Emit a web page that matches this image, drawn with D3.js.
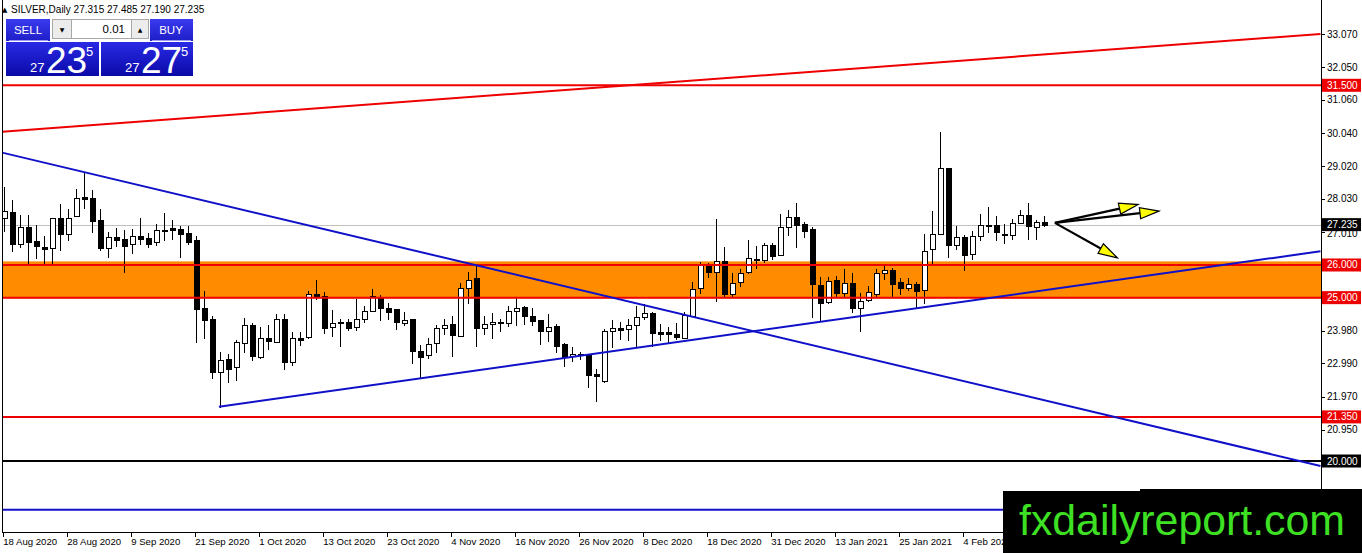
<!DOCTYPE html>
<html>
<head>
<meta charset="utf-8">
<script src="https://cdn.jsdelivr.net/npm/d3@7"></script>
<style>
  body { margin: 0; background: #fff; overflow: hidden; }
  svg { display: block; font-family: "Liberation Sans", Arial, sans-serif; }
</style>
</head>
<body>
<script>
// daily OHLC, SILVER, 18 Aug 2020 .. mid Feb 2021
const opens = [27.42,27.63,26.65,27.17,26.72,26.56,26.50,27.44,26.96,27.52,28.09,28.06,27.38,26.53,26.87,26.80,26.63,26.90,26.84,26.71,
  27.06,27.12,27.11,26.97,26.75,24.68,24.34,22.72,23.12,22.86,23.60,24.16,23.17,23.76,23.65,24.35,23.02,23.78,23.80,25.11,
  25.05,24.09,24.26,24.26,24.08,24.34,24.58,24.98,24.67,24.65,24.24,24.34,23.36,23.22,23.60,24.07,24.18,23.84,25.31,25.59,
  24.06,24.19,24.26,24.24,24.60,24.70,24.43,24.31,23.98,24.14,23.58,23.22,23.25,23.27,22.66,22.46,23.97,24.07,24.03,24.16,
  24.41,24.53,23.96,23.96,23.88,23.78,24.45,25.28,25.99,25.77,26.12,25.11,25.49,25.77,26.17,26.15,26.60,26.30,27.17,27.48,
  27.26,27.09,25.40,24.85,25.53,25.14,25.46,24.69,24.90,25.14,25.77,25.86,25.49,25.30,25.43,25.23,26.48,26.96,28.98,26.62,
  26.85,26.32,26.88,27.21,27.21,26.95,26.93,27.29,27.52,27.17,27.315];
const highs = [28.40,28.00,27.52,27.52,27.21,26.88,27.43,27.88,27.70,28.34,28.84,28.29,27.70,27.01,27.14,27.07,27.09,27.45,26.97,27.26,
  27.60,27.39,27.19,27.19,26.90,25.19,24.44,23.33,23.27,23.70,24.37,24.22,24.10,24.17,24.50,24.50,23.94,23.96,25.19,25.53,
  25.17,24.62,24.34,24.34,24.95,24.75,25.26,25.07,24.85,24.65,24.57,24.34,23.55,23.78,24.16,24.34,24.44,25.44,25.79,25.97,
  24.44,24.52,24.36,24.75,25.00,24.73,24.67,24.31,24.50,24.19,23.60,23.50,23.34,23.29,22.82,24.03,24.31,24.24,24.34,24.75,
  24.82,24.55,24.19,24.10,24.21,24.57,25.48,26.09,26.05,27.41,26.55,25.77,25.87,26.75,26.58,26.66,26.66,27.55,27.68,27.90,
  27.32,27.17,25.63,25.63,25.67,25.87,25.77,25.13,25.36,25.87,25.97,25.92,25.61,25.61,25.48,26.94,27.65,30.07,28.98,27.18,
  26.92,27.03,27.55,27.78,27.49,27.26,27.41,27.68,27.90,27.39,27.485];
const lows = [27.03,26.43,26.55,26.05,26.20,26.05,26.05,26.46,26.76,27.49,27.75,27.01,26.46,26.24,26.58,25.79,26.36,26.64,26.56,26.62,
  26.78,26.81,26.24,26.65,23.65,23.75,22.55,21.66,22.41,22.49,23.33,23.09,23.15,23.44,23.65,22.82,22.95,23.55,23.78,24.97,
  23.92,23.83,23.53,24.02,24.02,24.26,24.58,24.32,24.34,24.04,24.16,23.00,22.54,23.14,23.35,23.89,23.20,23.84,24.85,23.53,
  23.89,23.75,23.98,24.13,24.16,24.19,24.16,23.59,23.67,23.35,22.90,23.07,23.12,22.28,21.85,22.41,23.50,23.72,23.70,23.53,
  24.34,23.53,23.70,23.65,23.73,23.76,24.45,25.13,25.62,24.90,25.05,25.05,25.36,25.77,25.91,26.09,26.17,26.30,26.93,26.55,
  26.85,24.42,24.29,24.83,25.06,25.06,24.55,23.97,24.90,25.06,25.56,25.05,25.12,25.23,24.70,24.85,26.07,26.96,26.25,26.49,
  25.85,26.17,26.78,27.00,26.76,26.68,26.80,27.27,26.81,26.81,27.19];
const closes = [27.64,26.66,27.16,26.71,26.56,26.50,27.43,26.96,27.44,28.06,28.04,27.37,26.52,26.87,26.79,26.58,26.88,26.82,26.65,27.08,
  27.08,27.07,26.96,26.70,24.65,24.32,22.72,23.08,22.82,23.64,24.16,23.20,23.75,23.66,24.34,23.03,23.75,23.73,25.11,25.05,
  24.07,24.21,24.22,24.09,24.34,24.58,25.05,24.67,24.55,24.24,24.33,23.35,23.19,23.57,24.07,24.17,23.84,25.30,25.54,24.07,
  24.18,24.25,24.22,24.60,24.69,24.43,24.27,23.98,24.09,23.53,23.19,23.29,23.27,22.64,22.59,23.98,24.07,24.01,24.16,24.42,
  24.52,23.91,23.91,23.89,23.78,24.47,25.28,25.99,25.77,26.12,25.11,25.46,25.77,26.20,26.19,26.60,26.27,27.17,27.48,27.25,
  27.06,25.40,24.85,25.50,25.14,25.46,24.69,24.90,25.16,25.77,25.86,25.43,25.31,25.43,25.23,26.43,26.94,28.98,26.62,26.85,
  26.29,26.88,27.22,27.23,26.99,26.91,27.29,27.52,27.17,27.31,27.235];

// bottom axis labels: [bar index, text]
const dateTicks = [[0,'18 Aug 2020'],[8,'28 Aug 2020'],[16,'9 Sep 2020'],[24,'21 Sep 2020'],[32,'1 Oct 2020'],
  [40,'13 Oct 2020'],[48,'23 Oct 2020'],[56,'4 Nov 2020'],[64,'16 Nov 2020'],[72,'26 Nov 2020'],[80,'8 Dec 2020'],
  [88,'18 Dec 2020'],[96,'31 Dec 2020'],[104,'13 Jan 2021'],[112,'25 Jan 2021'],[120,'4 Feb 2021']];

// price scale ticks (those left visible beside the level labels)
const priceTicks = [33.07,32.05,31.06,30.04,29.02,28.03,27.01,23.98,22.99,21.97,20.95];

// horizontal levels: [price, line colour, label colour]
const levels = [[31.5,'#ee0000','#ee0000'],[26.0,'#ee0000','#ee0000'],[25.0,'#ee0000','#ee0000'],
  [21.35,'#ee0000','#ee0000'],[20.0,'#000000','#000000'],[18.51,'#1010c8',null]];
const zone = [24.98, 26.11];

// trendlines: [bar0, price0, bar1, price1, colour]
const trends = [[-0.2,30.08,164.6,33.07,'#ee0000'],[-0.2,29.44,164.6,19.85,'#1010c8'],[26.9,21.66,164.6,26.42,'#1010c8']];

// arrows: [bar0, price0, bar1, price1]
const arrows = [[131.4,27.29,141.8,27.85],[131.4,27.29,144.4,27.65],[131.4,27.29,139.2,26.22]];

const header = ['SILVER,Daily', 27.315, 27.485, 27.190, 27.235];
const bid = 27.235, ask = 27.275;

const W = 1362, H = 553;
const plot = {left: 2, top: 0, right: 1321, bottom: 532};

const svg = d3.select('body').append('svg').attr('width', W).attr('height', H);
svg.append('rect').attr('width', W).attr('height', H).attr('fill', '#fff');

const x = d3.scaleLinear().domain([0, 1]).range([3.7, 11.7]);
const y = d3.scaleLinear().domain([17.827, 34.111]).range([plot.bottom, plot.top]);

svg.append('defs').append('clipPath').attr('id', 'clip')
  .append('rect')
  .attr('x', plot.left).attr('y', plot.top)
  .attr('width', plot.right - plot.left).attr('height', plot.bottom - plot.top);

const g = svg.append('g').attr('clip-path', 'url(#clip)');

// orange zone
g.append('rect')
  .attr('x', plot.left).attr('width', plot.right - plot.left)
  .attr('y', y(zone[1])).attr('height', y(zone[0]) - y(zone[1]))
  .attr('fill', '#ff8c00');

// bid line
g.append('line')
  .attr('x1', plot.left).attr('x2', plot.right)
  .attr('y1', Math.round(y(bid)) + 0.5).attr('y2', Math.round(y(bid)) + 0.5)
  .attr('stroke', '#c0c0c0').attr('stroke-width', 1);

// candles
const candles = opens.map((o, i) => ({i, o, h: highs[i], l: lows[i], c: closes[i]}));
const cg = g.append('g').selectAll('g').data(candles).enter().append('g');
cg.append('line')
  .attr('x1', d => Math.round(x(d.i)) + 0.5).attr('x2', d => Math.round(x(d.i)) + 0.5)
  .attr('y1', d => Math.round(y(d.h))).attr('y2', d => Math.round(y(d.l)) + 1)
  .attr('stroke', '#000').attr('stroke-width', 1);
cg.append('rect')
  .attr('x', d => Math.round(x(d.i)) - 2 + 0.5)
  .attr('width', 5)
  .attr('y', d => Math.round(y(Math.max(d.o, d.c))) + 0.5)
  .attr('height', d => Math.max(1, Math.round(Math.abs(y(d.o) - y(d.c)))))
  .attr('fill', d => d.c >= d.o ? '#fff' : '#000')
  .attr('stroke', '#000').attr('stroke-width', 1);

// horizontal levels
g.selectAll('.lvl').data(levels).enter().append('line')
  .attr('x1', plot.left).attr('x2', plot.right)
  .attr('y1', d => y(d[0])).attr('y2', d => y(d[0]))
  .attr('stroke', d => d[1]).attr('stroke-width', 2);

// trendlines
g.selectAll('.tr').data(trends).enter().append('line')
  .attr('x1', d => x(d[0])).attr('y1', d => y(d[1]))
  .attr('x2', d => x(d[2])).attr('y2', d => y(d[3]))
  .attr('stroke', d => d[4]).attr('stroke-width', 2);

// arrows
arrows.forEach(a => {
  const x0 = x(a[0]), y0 = y(a[1]), x1 = x(a[2]), y1 = y(a[3]);
  const ang = Math.atan2(y1 - y0, x1 - x0);
  const len = 19, hw = 5.5;
  const bx = x1 - len * Math.cos(ang), by = y1 - len * Math.sin(ang);
  g.append('line').attr('x1', x0).attr('y1', y0).attr('x2', bx).attr('y2', by)
    .attr('stroke', '#000').attr('stroke-width', 2.2);
  const pts = [[x1, y1],
    [bx - hw * Math.sin(ang), by + hw * Math.cos(ang)],
    [bx + hw * Math.sin(ang), by - hw * Math.cos(ang)]];
  g.append('polygon').attr('points', pts.map(p => p.join(',')).join(' '))
    .attr('fill', '#ffff00').attr('stroke', '#000').attr('stroke-width', 1.2);
});

// frame
svg.append('line').attr('x1', plot.left + 0.5).attr('x2', plot.left + 0.5)
  .attr('y1', plot.top).attr('y2', plot.bottom).attr('stroke', '#000');
svg.append('line').attr('x1', plot.right + 0.5).attr('x2', plot.right + 0.5)
  .attr('y1', plot.top).attr('y2', plot.bottom).attr('stroke', '#000');
svg.append('line').attr('x1', plot.left).attr('x2', plot.right + 1)
  .attr('y1', plot.bottom + 0.5).attr('y2', plot.bottom + 0.5).attr('stroke', '#000');

// right price axis
const ya = svg.append('g');
ya.selectAll('line').data(priceTicks).enter().append('line')
  .attr('x1', plot.right).attr('x2', plot.right + 4)
  .attr('y1', d => Math.round(y(d)) + 0.5).attr('y2', d => Math.round(y(d)) + 0.5)
  .attr('stroke', '#000');
ya.selectAll('text').data(priceTicks).enter().append('text')
  .attr('x', plot.right + 6).attr('y', d => y(d) + 3.5 + (d === 27.01 ? 2 : 0))
  .attr('font-size', 10).attr('fill', '#000')
  .text(d => d.toFixed(3));

// level labels
const lab = svg.append('g');
const labelData = levels.filter(d => d[2]).map(d => [d[0], d[2]]).concat([[bid, '#000']]);
lab.selectAll('rect').data(labelData).enter().append('rect')
  .attr('x', plot.right + 1).attr('width', 39)
  .attr('y', d => y(d[0]) - 6.5).attr('height', 13)
  .attr('fill', d => d[1]);
lab.selectAll('text').data(labelData).enter().append('text')
  .attr('x', plot.right + 6).attr('y', d => y(d[0]) + 3.5)
  .attr('font-size', 10).attr('fill', '#fff')
  .text(d => d[0].toFixed(3));

// bottom date axis
const xa = svg.append('g');
xa.selectAll('line').data(dateTicks).enter().append('line')
  .attr('x1', d => Math.round(x(d[0])) - 0.5).attr('x2', d => Math.round(x(d[0])) - 0.5)
  .attr('y1', plot.bottom).attr('y2', plot.bottom + 5)
  .attr('stroke', '#000');
xa.selectAll('text').data(dateTicks).enter().append('text')
  .attr('x', d => x(d[0]) - 0.5).attr('y', plot.bottom + 13)
  .attr('font-size', 9.6).attr('fill', '#000')
  .text(d => d[1]);

// header
svg.append('text').attr('x', 2).attr('y', 12).attr('font-size', 7)
  .attr('font-family', 'DejaVu Sans').text('\u25B2');
svg.append('text').attr('x', 11).attr('y', 12.5).attr('font-size', 10)
  .text(header[0] + '  ' + header.slice(1).map(v => v.toFixed(3)).join(' '));

// one-click trading panel
const defs = svg.select('defs');
const grad = defs.append('linearGradient').attr('id', 'pbox').attr('x1', 0).attr('x2', 0).attr('y1', 0).attr('y2', 1);
grad.append('stop').attr('offset', '0%').attr('stop-color', '#2a2ae6');
grad.append('stop').attr('offset', '100%').attr('stop-color', '#0a0aa8');
const grad2 = defs.append('linearGradient').attr('id', 'pbtn').attr('x1', 0).attr('x2', 0).attr('y1', 0).attr('y2', 1);
grad2.append('stop').attr('offset', '0%').attr('stop-color', '#3a3af0');
grad2.append('stop').attr('offset', '100%').attr('stop-color', '#1e1ec8');

const panel = svg.append('g');
panel.append('rect').attr('x', 5).attr('y', 18).attr('width', 189).attr('height', 59).attr('fill', '#fff');
panel.append('rect').attr('x', 6).attr('y', 19).attr('width', 44).attr('height', 22).attr('fill', 'url(#pbtn)');
panel.append('rect').attr('x', 150).attr('y', 19).attr('width', 43).attr('height', 22).attr('fill', 'url(#pbtn)');
panel.append('line').attr('x1', 9).attr('x2', 48).attr('y1', 40.5).attr('y2', 40.5).attr('stroke', '#9a9af0');
panel.append('line').attr('x1', 152).attr('x2', 191).attr('y1', 40.5).attr('y2', 40.5).attr('stroke', '#9a9af0');
panel.append('text').attr('x', 28).attr('y', 34).attr('text-anchor', 'middle')
  .attr('font-size', 11.5).attr('fill', '#fff').text('SELL');
panel.append('text').attr('x', 171).attr('y', 34).attr('text-anchor', 'middle')
  .attr('font-size', 11.5).attr('fill', '#fff').text('BUY');
panel.append('rect').attr('x', 52.5).attr('y', 19.5).attr('width', 19).attr('height', 19)
  .attr('fill', '#ececec').attr('stroke', '#a8a8a8');
panel.append('rect').attr('x', 71.5).attr('y', 19.5).attr('width', 60).attr('height', 19)
  .attr('fill', '#fff').attr('stroke', '#a8a8a8');
panel.append('rect').attr('x', 131.5).attr('y', 19.5).attr('width', 17).attr('height', 19)
  .attr('fill', '#ececec').attr('stroke', '#a8a8a8');
panel.append('text').attr('x', 62).attr('y', 32).attr('text-anchor', 'middle')
  .attr('font-size', 6).attr('font-family', 'DejaVu Sans').text('\u25BC');
panel.append('text').attr('x', 140).attr('y', 32).attr('text-anchor', 'middle')
  .attr('font-size', 6).attr('font-family', 'DejaVu Sans').text('\u25B2');
panel.append('text').attr('x', 125).attr('y', 33).attr('text-anchor', 'end')
  .attr('font-size', 11.5).text('0.01');

const boxes = [[6, 93, bid], [101, 92, ask]];
boxes.forEach(([bx, bw, price]) => {
  panel.append('rect').attr('x', bx).attr('y', 42).attr('width', bw).attr('height', 34).attr('fill', 'url(#pbox)');
  const s = price.toFixed(3);
  const big = s.slice(3, 5), small = s.slice(0, 2), pip = s.slice(5);
  panel.append('text').attr('x', bx + 24).attr('y', 71.5).attr('font-size', 13).attr('fill', '#fff').text(small);
  panel.append('text').attr('x', bx + 40).attr('y', 73).attr('font-size', 37).attr('fill', '#fff').text(big);
  panel.append('text').attr('x', bx + 80).attr('y', 56).attr('font-size', 13).attr('fill', '#fff').text(pip);
});

// watermark
svg.append('rect').attr('x', 1003).attr('y', 491).attr('width', W - 1003).attr('height', H - 491).attr('fill', '#000');
svg.append('rect').attr('x', 1140).attr('y', 489).attr('width', W - 1140).attr('height', 4).attr('fill', '#000');
svg.append('text').attr('x', 1019).attr('y', 535)
  .attr('font-size', 43).attr('fill', '#3ee023')
  .attr('textLength', 326).attr('lengthAdjust', 'spacingAndGlyphs')
  .text('fxdailyreport.com');
</script>
</body>
</html>
